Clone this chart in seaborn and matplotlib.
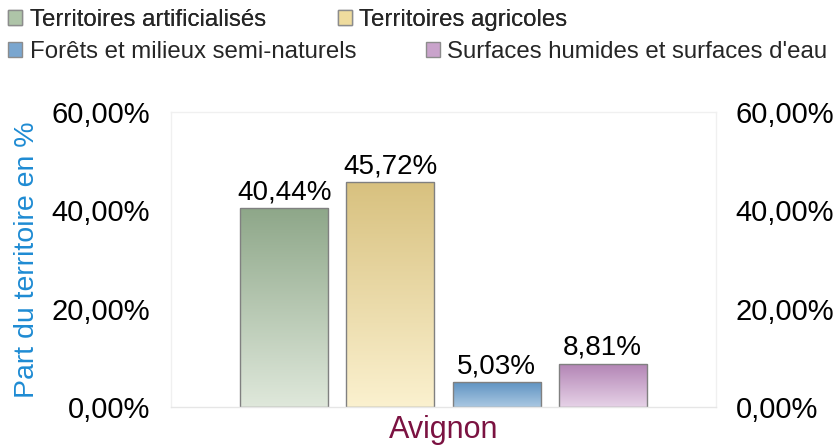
import numpy as np
import pandas as pd
import seaborn as sns
import matplotlib.pyplot as plt
from matplotlib.colors import LinearSegmentedColormap
from matplotlib.patches import Patch
from matplotlib.ticker import FuncFormatter

# occupation du sol - Avignon
communes = ["Avignon"]
categories = ["Territoires artificialisés", "Territoires agricoles",
              "Forêts et milieux semi-naturels", "Surfaces humides et surfaces d'eau"]
parts = [40.44, 45.72, 5.03, 8.81]
yticks = [0, 20, 40, 60]

top_colors = ["#8ea789", "#d8c17f", "#5f93c2", "#b283b4"]
bottom_colors = ["#dfe8db", "#fbf1cf", "#aac8e2", "#e6d2e7"]
mid_colors = ["#aec4a8", "#efdc9e", "#7aa6cf", "#c9a3cb"]

df = pd.DataFrame({"commune": communes * len(categories),
                   "categorie": categories,
                   "part": parts})

sns.set_theme(style="white")
plt.rcParams["font.family"] = ["Liberation Sans", "DejaVu Sans"]

fig = plt.figure(figsize=(8.36, 4.45), dpi=100)
ax = fig.add_axes([0.2045, 0.0854, 0.652, 0.663])

sns.barplot(data=df, x="commune", y="part", hue="categorie", hue_order=categories,
            palette=mid_colors, width=0.8, gap=0.17, edgecolor="#808080",
            linewidth=1, legend=False, ax=ax)

# degrade vertical dans chaque barre
bars = sorted([p for p in ax.patches], key=lambda p: p.get_x())
grad = np.linspace(0, 1, 256).reshape(-1, 1)
for patch, top, bot in zip(bars, top_colors, bottom_colors):
    x0, y0 = patch.get_x(), patch.get_y()
    w, h = patch.get_width(), patch.get_height()
    cmap = LinearSegmentedColormap.from_list("g", [bot, top])
    im = ax.imshow(grad, cmap=cmap, extent=[x0, x0 + w, y0, y0 + h], origin="lower",
                   aspect="auto", zorder=patch.get_zorder() - 0.1)
    im.set_clip_path(patch)
    patch.set_facecolor("none")

for cont, val in zip(ax.containers, parts):
    ax.bar_label(cont, labels=[f"{val:.2f}".replace(".", ",") + "%"],
                 padding=2, fontsize=20, color="black")

ax.set_xlim(-0.514, 0.514)
ax.set_ylim(0, 60)
fmt = FuncFormatter(lambda v, _: f"{v:.2f}".replace(".", ",") + "%")
ax.set_yticks(yticks)
ax.yaxis.set_major_formatter(fmt)
ax.tick_params(axis="y", length=0, pad=15, labelsize=21, labelcolor="black")
ax.tick_params(axis="x", length=0, pad=6, labelsize=22, labelcolor="#7b1241")
ax.set_xlabel("")
ax.set_ylabel("Part du territoire en %", color="#1e8bd3", fontsize=20.5)
ax.yaxis.set_label_coords(-0.24, 0.5)

ax2 = ax.twinx()
ax2.set_ylim(0, 60)
ax2.set_yticks(yticks)
ax2.yaxis.set_major_formatter(fmt)
ax2.tick_params(axis="y", length=0, pad=14, labelsize=21, labelcolor="black")
for sp in ax2.spines.values():
    sp.set_visible(False)
for name, sp in ax.spines.items():
    sp.set_color("#e6e6e6" if name == "bottom" else "#f0f0f0")
    sp.set_linewidth(1)

# legende sur deux lignes
handles = [Patch(facecolor=c, edgecolor="#8c8c8c", linewidth=1) for c in mid_colors]
kw = dict(ncol=2, loc="upper left", frameon=False, fontsize=17.3, handlelength=0.6,
          handleheight=0.6, handletextpad=0.3,
          borderpad=0, borderaxespad=0)
leg1 = fig.legend(handles[:2], categories[:2], columnspacing=3.0,
                  bbox_to_anchor=(8 / 836, 1 - 9 / 445), **kw)
fig.add_artist(leg1)
fig.legend(handles[2:], categories[2:], columnspacing=2.9,
           bbox_to_anchor=(8 / 836, 1 - 41 / 445), **kw)

fig.savefig("out.png", dpi=100)
